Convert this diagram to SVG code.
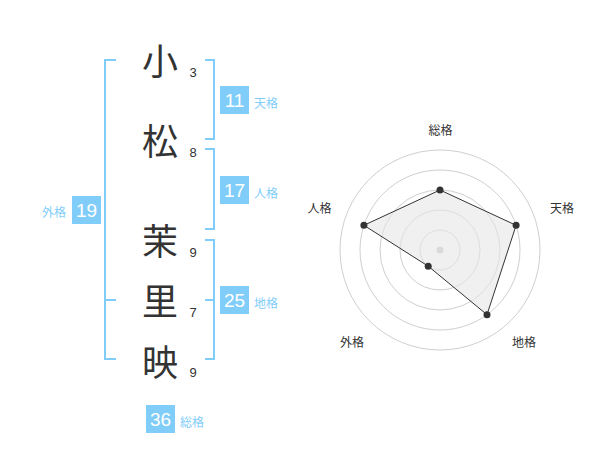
<svg xmlns="http://www.w3.org/2000/svg" width="600" height="470" viewBox="0 0 600 470">
<style>
.ch{font-family:"Noto Sans CJK JP","Noto Sans CJK SC",sans-serif;font-size:36px;fill:#333;text-anchor:middle}
.num{font-family:"Liberation Sans",Arial,sans-serif;font-size:13px;fill:#333;text-anchor:middle}
.br{fill:none;stroke:#81cdf9;stroke-width:2}
.box{fill:#81cdf9}
.bn{font-family:"Liberation Sans",Arial,sans-serif;font-size:19px;fill:#fff;text-anchor:middle}
.lb{font-family:"Noto Sans CJK JP",sans-serif;font-size:12px;fill:#81cdf9}
.ring{fill:none;stroke:#cfcfcf;stroke-width:1}
.rl{font-family:"Noto Sans CJK JP",sans-serif;font-size:12px;fill:#333;text-anchor:middle}
</style>
<rect width="600" height="470" fill="#fff"/>
<g id="chars">
<g id="c1"><text class="ch" x="160" y="75">小</text><text class="num" x="193" y="77">3</text></g>
<g id="c2"><text class="ch" x="160" y="155">松</text><text class="num" x="193" y="157">8</text></g>
<g id="c3"><text class="ch" x="160" y="255">茉</text><text class="num" x="193" y="257">9</text></g>
<g id="c4"><text class="ch" x="160" y="315">里</text><text class="num" x="193" y="317">7</text></g>
<g id="c5"><text class="ch" x="160" y="376">映</text><text class="num" x="193" y="377">9</text></g>
</g>
<g id="brackets">
<path class="br" d="M116,60H105V359H116M105,300H116"/>
<path class="br" d="M205,60H214V139H205"/>
<path class="br" d="M205,149H214V229H205"/>
<path class="br" d="M205,240H214V359H205M214,300H205"/>
</g>
<g id="tenkaku"><rect class="box" x="220" y="86" width="29" height="28"/><text class="bn" x="234.5" y="107">11</text><text class="lb" x="254" y="108">天格</text></g>
<g id="jinkaku"><rect class="box" x="220" y="176" width="29" height="28"/><text class="bn" x="234.5" y="197">17</text><text class="lb" x="254" y="198">人格</text></g>
<g id="chikaku"><rect class="box" x="220" y="286" width="29" height="28"/><text class="bn" x="234.5" y="307">25</text><text class="lb" x="254" y="308">地格</text></g>
<g id="gaikaku"><rect class="box" x="72" y="196" width="29" height="28"/><text class="bn" x="86.5" y="217">19</text><text class="lb" x="66" y="217" text-anchor="end">外格</text></g>
<g id="soukaku"><rect class="box" x="146" y="405" width="29" height="28"/><text class="bn" x="160.5" y="426">36</text><text class="lb" x="180" y="427">総格</text></g>
<g id="radar">
<circle class="ring" cx="440" cy="250" r="20"/>
<circle class="ring" cx="440" cy="250" r="40"/>
<circle class="ring" cx="440" cy="250" r="60"/>
<circle class="ring" cx="440" cy="250" r="80"/>
<circle class="ring" cx="440" cy="250" r="100"/>
<circle cx="440" cy="250" r="3.5" fill="#c8c8c8"/>
<polygon points="440,190 516.1,225.3 487,314.7 428.2,266.2 363.9,225.3" fill="#e6e6e6" fill-opacity="0.6" stroke="#333" stroke-width="1"/>
<g fill="#333">
<circle cx="440" cy="190" r="3.5"/>
<circle cx="516.1" cy="225.3" r="3.5"/>
<circle cx="487" cy="314.7" r="3.5"/>
<circle cx="428.2" cy="266.2" r="3.5"/>
<circle cx="363.9" cy="225.3" r="3.5"/>
</g>
<text class="rl" x="440.5" y="135">総格</text>
<text class="rl" x="562" y="213">天格</text>
<text class="rl" x="319.5" y="213">人格</text>
<text class="rl" x="352" y="347">外格</text>
<text class="rl" x="524" y="347">地格</text>
</g>
</svg>
